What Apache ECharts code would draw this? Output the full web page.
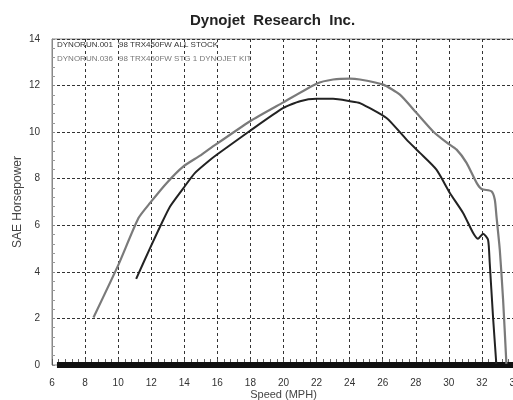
<!DOCTYPE html>
<html>
<head>
<meta charset="utf-8">
<title>Dynojet Research Inc.</title>
<script src="https://cdn.jsdelivr.net/npm/echarts@6/dist/echarts.min.js"></script>
<style>
html, body { margin: 0; padding: 0; background: #fff; }
#chart { width: 513px; height: 400px; }
</style>
</head>
<body>
<div id="chart"></div>
<script>
// run 001 - stock (black)
var stockSpeed = [11.09, 11.93, 12.64, 13.14, 13.95, 14.65, 15.46, 15.96, 17.98, 19.99, 21.0, 22.0, 23.0, 24.02, 24.62, 26.23, 27.44, 28.25, 29.25, 30.06, 30.86, 31.47, 31.77, 32.07, 32.37, 32.47, 32.67, 32.87];
var stockHp    = [3.70, 5.02, 6.10, 6.81, 7.60, 8.25, 8.75, 9.03, 10.06, 11.04, 11.33, 11.43, 11.43, 11.33, 11.25, 10.61, 9.68, 9.11, 8.39, 7.39, 6.53, 5.67, 5.42, 5.64, 5.38, 4.40, 2.08, 0.05];

// run 036 - stage 1 kit (gray)
var kitSpeed = [8.51, 10.02, 11.23, 11.93, 12.94, 13.95, 14.95, 15.46, 17.98, 19.99, 22.0, 23.0, 24.02, 24.62, 26.03, 27.04, 28.05, 29.05, 29.86, 30.47, 31.07, 31.68, 31.98, 32.58, 32.78, 32.88, 33.08, 33.28, 33.48];
var kitHp    = [2.04, 4.31, 6.31, 6.96, 7.82, 8.53, 8.99, 9.25, 10.47, 11.28, 12.08, 12.26, 12.30, 12.26, 12.04, 11.61, 10.82, 10.03, 9.56, 9.25, 8.68, 7.82, 7.56, 7.46, 7.10, 6.38, 4.95, 2.80, 0.05];

// thick zero bar along the bottom
var baseSpeed = [6.3, 34];
var baseHp    = [0, 0];

var runLabels = [
	"DYNORUN.001  '98 TRX450FW ALL STOCK",
	"DYNORUN.036  '98 TRX450FW STG 1 DYNOJET KIT"
];

function pairs(xs, ys) {
	var out = [];
	for (var i = 0; i < xs.length; i++) {
		out.push([xs[i], ys[i]]);
	}
	return out;
}

var chart = echarts.init(document.getElementById('chart'), null, { renderer: 'canvas' });

chart.setOption({
	animation: false,
	backgroundColor: '#fff',
	title: {
		text: 'Dynojet  Research  Inc.',
		left: 185,
		top: 8,
		textStyle: { fontFamily: 'Liberation Sans, Arial', fontSize: 15, fontWeight: 'bold', color: '#222' }
	},
	grid: {
		left: 52,
		right: -2,
		top: 39,
		bottom: 35,
		outerBoundsMode: 'none',
		containLabel: false,
		show: true,
		borderColor: '#888',
		borderWidth: 1
	},
	graphic: [
		{
			type: 'text', left: 57, top: 41,
			style: { text: runLabels[0], fill: '#333', font: '8px "Liberation Sans", Arial' }
		},
		{
			type: 'text', left: 57, top: 55,
			style: { text: runLabels[1], fill: '#777', font: '8px "Liberation Sans", Arial' }
		}
	],
	xAxis: {
		type: 'value',
		min: 6,
		max: 34,
		interval: 2,
		name: 'Speed (MPH)',
		nameLocation: 'middle',
		nameGap: 24,
		nameMoveOverlap: false,
		nameTextStyle: { fontFamily: 'Liberation Sans, Arial', fontSize: 11, color: '#444' },
		axisLine: { show: false },
		axisTick: { show: true, inside: true, length: 6, lineStyle: { color: '#555' } },
		minorTick: { show: true, splitNumber: 5, length: 6, lineStyle: { color: '#666' } },
		axisLabel: { fontFamily: 'Liberation Sans, Arial', fontSize: 10, color: '#333', margin: 13 },
		splitLine: { show: true, lineStyle: { color: '#333', type: [3, 3], width: 1 } }
	},
	yAxis: {
		type: 'value',
		min: 0,
		max: 14,
		interval: 2,
		name: 'SAE Horsepower',
		nameLocation: 'middle',
		nameGap: 28,
		nameMoveOverlap: false,
		nameTextStyle: { fontFamily: 'Liberation Sans, Arial', fontSize: 12, color: '#444' },
		axisLine: { show: true, lineStyle: { color: '#888', width: 1 } },
		axisTick: { show: true, inside: true, length: 3, lineStyle: { color: '#888' } },
		minorTick: { show: true, splitNumber: 5, length: 3, lineStyle: { color: '#999' } },
		axisLabel: { fontFamily: 'Liberation Sans, Arial', fontSize: 10, color: '#333', margin: 12 },
		splitLine: { show: true, lineStyle: { color: '#333', type: [3, 2], width: 1 } }
	},
	series: [
		{
			name: 'base',
			type: 'line',
			data: pairs(baseSpeed, baseHp),
			symbol: 'none',
			silent: true,
			lineStyle: { color: '#111', width: 6 },
			z: 1
		},
		{
			name: 'DYNORUN.001',
			type: 'line',
			data: pairs(stockSpeed, stockHp),
			symbol: 'none',
			smooth: 0.2,
			lineStyle: { color: '#222', width: 2 },
			z: 3
		},
		{
			name: 'DYNORUN.036',
			type: 'line',
			data: pairs(kitSpeed, kitHp),
			symbol: 'none',
			smooth: 0.2,
			lineStyle: { color: '#7a7a7a', width: 2.2 },
			z: 2
		}
	]
});
</script>
</body>
</html>
